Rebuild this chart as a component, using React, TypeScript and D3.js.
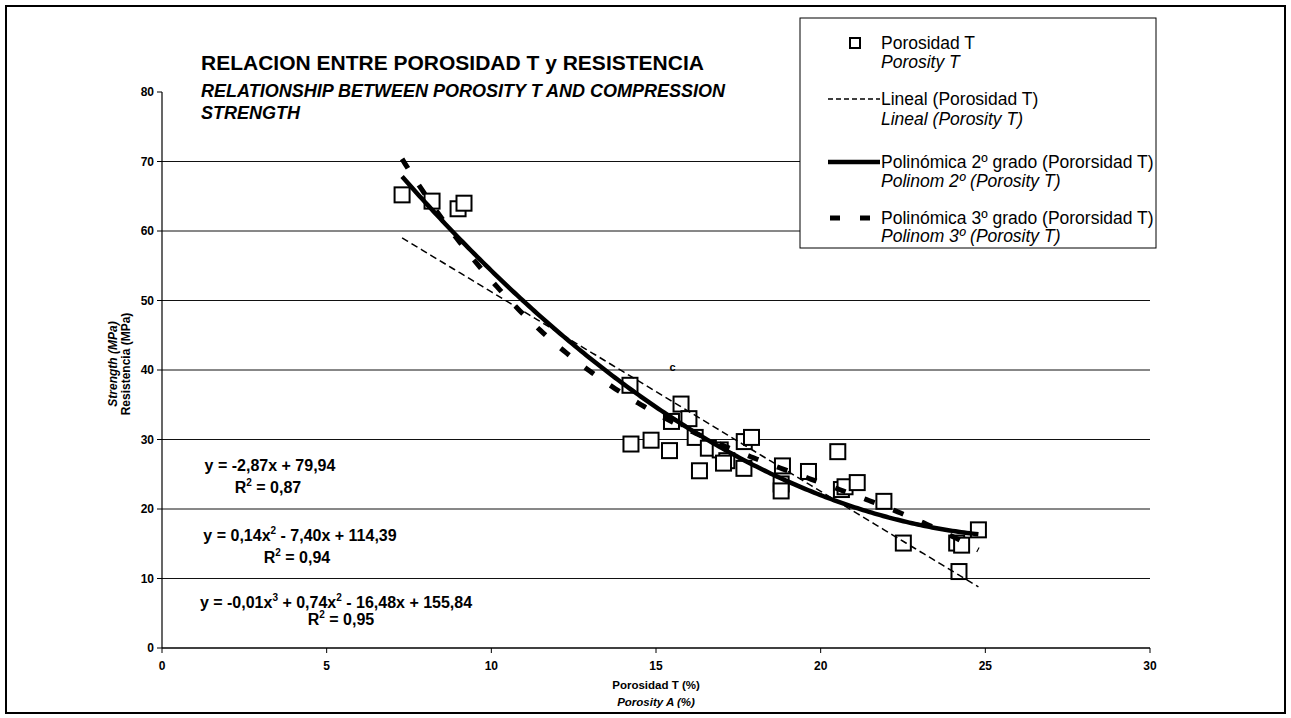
import React from "react";
import * as d3 from "d3";

// ---- Data ----
const porosity: number[] = [
  7.29, 8.2, 8.99, 9.17,
  14.21, 14.24, 14.85, 15.41, 15.47, 15.76, 16.0, 16.19, 16.32, 16.59, 16.95,
  17.15, 17.05, 17.67, 17.68, 17.9, 18.84, 18.8, 18.8, 19.63, 20.52, 20.63,
  20.74, 21.11, 21.92, 22.51, 24.13, 24.28, 24.79, 24.2,
];
const strength: number[] = [
  65.2, 64.3, 63.2, 64.0,
  37.8, 29.35, 29.9, 28.4, 32.6, 35.1, 33.0, 30.3, 25.5, 28.75, 28.5,
  26.95, 26.6, 25.85, 29.7, 30.3, 26.2, 23.6, 22.6, 25.4, 28.25, 22.8,
  23.2, 23.8, 21.1, 15.1, 15.1, 14.8, 17.0, 11.0,
];

// trendline coefficients [a0, a1, a2, a3] (as plotted)
const linCoef: number[] = [79.94, -2.87];
const poly2Coef: number[] = [114.39, -7.4, 0.139];
const poly3Coef: number[] = [155.84, -16.48, 0.7432, -0.012467];

const xTicks: number[] = [0, 5, 10, 15, 20, 25, 30];
const yTicks: number[] = [0, 10, 20, 30, 40, 50, 60, 70, 80];
const gridValues: number[] = [10, 20, 30, 40, 50, 60, 70];

const titleLines: string[] = ["RELACION ENTRE POROSIDAD T y RESISTENCIA"];
const subtitleLines: string[] = [
  "RELATIONSHIP BETWEEN POROSITY T AND COMPRESSION",
  "STRENGTH",
];

const FONT = "'Liberation Sans', Arial, Helvetica, sans-serif";

function evalPoly(c: number[], x: number) {
  let y = 0;
  for (let i = 0; i < c.length; i++) y += c[i] * Math.pow(x, i);
  return y;
}

export default function App() {
  const x = d3.scaleLinear().domain([0, 30]).range([162, 1150]);
  const y = d3.scaleLinear().domain([0, 80]).range([648, 92]);

  const xmin = d3.min(porosity) as number;
  const xmax = d3.max(porosity) as number;
  const samples = d3.range(0, 201).map((i) => xmin + ((xmax - xmin) * i) / 200);
  const line = d3
    .line<number[]>()
    .x((d) => x(d[0]))
    .y((d) => y(d[1]));
  const curve = (c: number[]) => line(samples.map((s) => [s, evalPoly(c, s)])) as string;

  const sq = 15;
  const pts = porosity.map((p, i) => [p, strength[i]]);

  return (
    <svg
      width={1291}
      height={718}
      style={{ position: "absolute", left: 0, top: 0, background: "#fff" }}
      fontFamily={FONT}
    >
      <rect x={0} y={0} width={1291} height={718} fill="#fff" />
      {/* outer frame */}
      <rect x={6} y={6} width={1279} height={707} fill="none" stroke="#000" strokeWidth={2} />

      {/* gridlines */}
      {gridValues.map((v) => (
        <line key={"g" + v} x1={x(0)} x2={x(30)} y1={y(v)} y2={y(v)} stroke="#111" strokeWidth={1} />
      ))}

      {/* axes */}
      <line x1={x(0)} x2={x(0)} y1={y(0)} y2={y(80)} stroke="#000" strokeWidth={1.2} />
      <line x1={x(0)} x2={x(30)} y1={y(0)} y2={y(0)} stroke="#000" strokeWidth={1.5} />
      {yTicks.map((v) => (
        <g key={"yt" + v}>
          <line x1={x(0) - 5} x2={x(0)} y1={y(v)} y2={y(v)} stroke="#000" strokeWidth={1} />
          <text x={154} y={y(v) + 4} textAnchor="end" fontSize={12} fontWeight="bold">
            {v}
          </text>
        </g>
      ))}
      {xTicks.map((v) => (
        <g key={"xt" + v}>
          <line x1={x(v)} x2={x(v)} y1={y(0)} y2={y(0) + 5} stroke="#000" strokeWidth={1} />
          <text x={x(v)} y={670} textAnchor="middle" fontSize={12} fontWeight="bold">
            {v}
          </text>
        </g>
      ))}

      {/* axis titles */}
      <text x={656} y={689} textAnchor="middle" fontSize={11.5} fontWeight="bold">
        Porosidad T (%)
      </text>
      <text x={656} y={706} textAnchor="middle" fontSize={11.5} fontWeight="bold" fontStyle="italic">
        Porosity A (%)
      </text>
      <g transform="translate(130,364) rotate(-90)">
        <text x={0} y={0} textAnchor="middle" fontSize={12} fontWeight="bold">
          Resistencia (MPa)
        </text>
        <text x={0} y={-13} textAnchor="middle" fontSize={12} fontWeight="bold" fontStyle="italic">
          Strength (MPa)
        </text>
      </g>

      {/* data points */}
      {pts.map((d, i) => (
        <rect
          key={"p" + i}
          x={x(d[0]) - sq / 2}
          y={y(d[1]) - sq / 2}
          width={sq}
          height={sq}
          fill="#fff"
          stroke="#000"
          strokeWidth={2}
        />
      ))}

      {/* trendlines */}
      <path d={curve(linCoef)} fill="none" stroke="#000" strokeWidth={1.5} strokeDasharray="7,4" />
      <path d={curve(poly2Coef)} fill="none" stroke="#000" strokeWidth={4.5} />
      <path d={curve(poly3Coef)} fill="none" stroke="#000" strokeWidth={5} strokeDasharray="11,20" />

      <text x={x(15.5)} y={y(40.5) + 4} textAnchor="middle" fontSize={11} fontWeight="bold">
        c
      </text>

      {/* title */}
      {titleLines.map((t, i) => (
        <text key={"t" + i} x={201} y={70 + i * 22} fontSize={21} fontWeight="bold">
          {t}
        </text>
      ))}
      {subtitleLines.map((t, i) => (
        <text key={"s" + i} x={201} y={97 + i * 22} fontSize={18} fontWeight="bold" fontStyle="italic">
          {t}
        </text>
      ))}

      {/* equations */}
      <g fontSize={16} fontWeight="bold" textAnchor="middle">
        <text x={270} y={471}>
          y = -2,87x + 79,94
        </text>
        <text x={268} y={493}>
          R<tspan dy={-7} fontSize={10}>2</tspan>
          <tspan dy={7}> = 0,87</tspan>
        </text>
        <text x={300} y={541}>
          y = 0,14x<tspan dy={-7} fontSize={10}>2</tspan>
          <tspan dy={7}> - 7,40x + 114,39</tspan>
        </text>
        <text x={297} y={563}>
          R<tspan dy={-7} fontSize={10}>2</tspan>
          <tspan dy={7}> = 0,94</tspan>
        </text>
        <text x={336} y={608}>
          y = -0,01x<tspan dy={-7} fontSize={10}>3</tspan>
          <tspan dy={7}> + 0,74x</tspan>
          <tspan dy={-7} fontSize={10}>2</tspan>
          <tspan dy={7}> - 16,48x + 155,84</tspan>
        </text>
        <text x={341} y={625}>
          R<tspan dy={-7} fontSize={10}>2</tspan>
          <tspan dy={7}> = 0,95</tspan>
        </text>
      </g>

      {/* legend */}
      <rect x={800} y={18} width={356} height={230} fill="#fff" stroke="#000" strokeWidth={1} />
      <rect x={850} y={38} width={10} height={10} fill="#fff" stroke="#000" strokeWidth={2} />
      <g fontSize={17.5}>
        <text x={881} y={49}>Porosidad T</text>
        <text x={881} y={68} fontStyle="italic">Porosity T</text>
        <line x1={828} x2={880} y1={99} y2={99} stroke="#000" strokeWidth={1.5} strokeDasharray="5,3" />
        <text x={881} y={105}>Lineal (Porosidad T)</text>
        <text x={881} y={125} fontStyle="italic">Lineal (Porosity T)</text>
        <line x1={828} x2={880} y1={162} y2={162} stroke="#000" strokeWidth={4.5} />
        <text x={881} y={168}>Polinómica 2º grado (Pororsidad T)</text>
        <text x={881} y={187} fontStyle="italic">Polinom 2º (Porosity T)</text>
        <line x1={830} x2={880} y1={218} y2={218} stroke="#000" strokeWidth={5} strokeDasharray="10,20" />
        <text x={881} y={224}>Polinómica 3º grado (Pororsidad T)</text>
        <text x={881} y={242} fontStyle="italic">Polinom 3º (Porosity T)</text>
      </g>
    </svg>
  );
}
